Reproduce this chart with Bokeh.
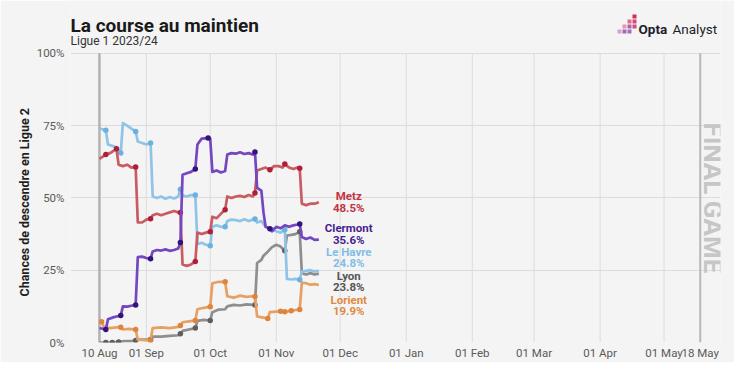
import math
import pandas as pd
from bokeh.plotting import figure
from bokeh.models import Range1d, FixedTicker, Label, Title, ColumnDataSource
from bokeh.core.properties import value
from bokeh.embed import file_html
from bokeh.resources import INLINE

FONT = "Roboto"
BG = "#f4f4f4"

# ---------------- data ----------------
tick_dates = ["2023-08-10", "2023-09-01", "2023-10-01", "2023-11-01", "2023-12-01",
              "2024-01-01", "2024-02-01", "2024-03-01", "2024-04-01", "2024-05-01", "2024-05-18"]
tick_labels = ["10 Aug", "01 Sep", "01 Oct", "01 Nov", "01 Dec",
               "01 Jan", "01 Feb", "01 Mar", "01 Apr", "01 May", "18 May"]
y_ticks = [0, 25, 50, 75, 100]
y_tick_labels = ["0%", "25%", "50%", "75%", "100%"]

season_start = "2023-08-10"
final_game = "2024-05-18"

teams = ["Metz", "Clermont", "Le Havre", "Lyon", "Lorient"]
final_pct = ["48.5%", "35.6%", "24.8%", "23.8%", "19.9%"]

metz_dates = ["08-10", "08-11", "08-13", "08-15", "08-18", "08-19", "08-21", "08-23", "08-25", "08-27", "08-28", "08-30",
              "09-01", "09-03", "09-04", "09-06", "09-08", "09-10", "09-12", "09-14", "09-16", "09-17", "09-18", "09-20",
              "09-22", "09-24", "09-25", "09-27", "09-29",
              "10-01", "10-02", "10-04", "10-06", "10-08", "10-09", "10-11", "10-13", "10-15", "10-17", "10-19", "10-21",
              "10-22", "10-23", "10-25", "10-27", "10-29", "10-31",
              "11-02", "11-04", "11-05", "11-07", "11-09", "11-11", "11-12", "11-13", "11-15", "11-17", "11-19", "11-21"]
metz_vals = [63.5, 64, 65, 65.5, 67, 61.5, 61, 61.5, 60.5, 60.7, 41.5, 41.5,
             42.5, 42.8, 44, 44.5, 44, 44.5, 45, 45.5, 45, 45, 27, 26.5,
             27, 28, 38, 37.5, 38,
             38.3, 43.5, 43, 44.5, 45.9, 50.5, 50, 50.5, 50.7, 50.3, 51, 50.5,
             51.7, 59.5, 60, 60.5, 59.7, 61,
             61, 60.5, 61.7, 60.5, 60, 60.5, 60.3, 48, 47.5, 48, 48, 48.5]
metz_match_dates = ["08-13", "08-18", "08-27", "09-03", "09-17", "09-24", "10-01", "10-08", "10-22", "10-29", "11-05", "11-12"]
metz_match_vals = [65, 67, 60.7, 42.8, 45, 28, 38.3, 45.9, 51.7, 59.7, 61.7, 60.3]

clermont_dates = ["08-10", "08-13", "08-14", "08-16", "08-18", "08-20", "08-21", "08-23", "08-25", "08-27", "08-28", "08-30",
                  "09-01", "09-03", "09-04", "09-06", "09-08", "09-10", "09-12", "09-14", "09-16", "09-17", "09-18", "09-20",
                  "09-22", "09-24", "09-25", "09-27", "09-30",
                  "10-01", "10-02", "10-04", "10-06", "10-08", "10-09", "10-11", "10-13", "10-15", "10-17", "10-19", "10-21",
                  "10-22", "10-23", "10-25", "10-26", "10-27", "10-29", "10-30",
                  "11-01", "11-03", "11-05", "11-07", "11-09", "11-11", "11-12", "11-13", "11-15", "11-17", "11-19", "11-21"]
clermont_vals = [5, 4.5, 8, 8.6, 9, 9.3, 12.5, 12.4, 12.7, 13, 29.5, 29.7,
                 29.2, 29, 31.5, 32, 31.8, 32.2, 31.7, 32, 32.5, 34.6, 58, 58.5,
                 59, 60, 68.5, 70.5, 70.7,
                 70.5, 59, 59.5, 58.8, 59.3, 65, 65.5, 65.3, 65.8, 65.2, 65.5, 65,
                 65.9, 53.5, 52.5, 45, 40, 39.3, 38.5,
                 40, 39.5, 40.5, 40, 40.5, 40.8, 41, 36.5, 35.8, 36.3, 35.5, 35.6]
clermont_match_dates = ["08-13", "08-20", "08-27", "09-03", "09-17", "09-24", "09-30", "10-22", "10-29", "11-12"]
clermont_match_vals = [4.5, 9.3, 13, 29, 34.6, 60, 70.7, 65.9, 39.3, 41]

havre_dates = ["08-10", "08-13", "08-14", "08-16", "08-18", "08-20", "08-21", "08-23", "08-25", "08-27", "08-28", "08-30",
               "09-01", "09-03", "09-04", "09-06", "09-08", "09-10", "09-12", "09-14", "09-16", "09-17", "09-18", "09-20",
               "09-22", "09-24", "09-25", "09-27", "09-29",
               "10-01", "10-02", "10-04", "10-06", "10-08", "10-09", "10-11", "10-13", "10-15", "10-17", "10-19", "10-21",
               "10-22", "10-23", "10-25", "10-27", "10-30",
               "11-01", "11-03", "11-05", "11-06", "11-08", "11-10", "11-12", "11-13", "11-15", "11-17", "11-19", "11-21"]
havre_vals = [74, 73.4, 68.5, 68, 67.5, 65.5, 75.9, 75, 74, 73, 69.5, 69,
              68.5, 69, 50.5, 50, 50.5, 49.7, 50.3, 49.8, 50.5, 53, 50.8, 50.5,
              51, 51, 34, 34.5, 33.8,
              33.5, 40, 40.5, 40, 40, 42, 42.5, 42.3, 42, 42.6, 42, 42.5,
              42.7, 41.5, 42, 40, 39,
              38.5, 38, 39, 22, 21.8, 22, 21.7, 24.5, 24.8, 25, 24.6, 24.8]
havre_match_dates = ["08-13", "08-20", "08-27", "09-03", "09-17", "09-24", "10-01", "10-08", "10-22", "10-30", "11-05", "11-12"]
havre_match_vals = [73.4, 65.5, 73, 69, 53, 51, 33.5, 40, 42.7, 39, 39, 21.7]

lyon_dates = ["08-10", "08-13", "08-16", "08-19", "08-22", "08-25", "08-27", "08-28",
              "09-01", "09-03", "09-04", "09-08", "09-12", "09-16", "09-17", "09-18", "09-21", "09-23", "09-24", "09-25", "09-28",
              "10-01", "10-02", "10-05", "10-08", "10-09", "10-12", "10-15", "10-18", "10-21", "10-22", "10-23", "10-25",
              "10-26", "10-28", "10-30",
              "11-01", "11-03", "11-05", "11-06", "11-08", "11-10", "11-12", "11-13", "11-15", "11-17", "11-19", "11-21"]
lyon_vals = [0, 0, 0, 0.2, 0.5, 0.5, 0.7, 1,
             1, 1, 2, 2, 2.3, 2.5, 3, 4, 4.5, 4.8, 5, 7.5, 7.8,
             7.6, 10.5, 11.4, 11.5, 12.5, 13, 12.8, 13.2, 13, 13, 27.5, 28.6,
             30, 31.4, 33,
             33.8, 33.2, 31.7, 37, 37.2, 37.5, 38.3, 24, 23.5, 24, 23.5, 23.8]
lyon_match_dates = ["08-13", "08-16", "08-19", "08-27", "09-03", "09-17", "09-24", "10-01", "10-22", "11-05", "11-12"]
lyon_match_vals = [0, 0, 0.2, 0.7, 1, 3, 5, 7.6, 13, 31.7, 38.3]

lorient_dates = ["08-10", "08-11", "08-12", "08-15", "08-18", "08-20", "08-21", "08-24", "08-27", "08-28", "08-31",
                 "09-03", "09-04", "09-08", "09-12", "09-16", "09-17", "09-18", "09-21", "09-24", "09-25", "09-28",
                 "10-01", "10-02", "10-05", "10-08", "10-09", "10-12", "10-15", "10-18", "10-21", "10-22", "10-23",
                 "10-26", "10-28", "10-29",
                 "11-01", "11-03", "11-05", "11-08", "11-12", "11-13", "11-15", "11-17", "11-19", "11-21"]
lorient_vals = [7.2, 7.2, 5.5, 5, 5.2, 5.3, 4.5, 4.7, 4.5, 1, 0.8,
                0.7, 5, 5.2, 5, 5.4, 5.9, 7, 7.3, 7.6, 11.5, 12,
                12.4, 20.5, 21, 21, 16, 15.5, 16.2, 15.8, 16, 15.9, 9,
                8.6, 8.3, 10.5,
                10.7, 10.8, 10.6, 11, 11.4, 20.7, 20.5, 20, 20.2, 19.9]
lorient_match_dates = ["08-11", "08-20", "08-27", "09-03", "09-17", "09-24", "10-01", "10-08", "10-22", "10-28",
                       "11-03", "11-05", "11-08", "11-12"]
lorient_match_vals = [7.2, 5.3, 4.5, 0.7, 5.9, 7.6, 12.4, 21, 15.9, 8.3, 10.8, 10.6, 11, 11.4]

# ---------------- styles ----------------
line_colors = {"Metz": "#c95c62", "Clermont": "#7446c0", "Le Havre": "#8fc4e6", "Lyon": "#8e8e8e", "Lorient": "#e6a064"}
dot_colors = {"Metz": "#b01f3a", "Clermont": "#33127a", "Le Havre": "#6bb2df", "Lyon": "#5e5e5e", "Lorient": "#dd853c"}
label_colors = {"Metz": "#c23344", "Clermont": "#4a1d92", "Le Havre": "#82bde4", "Lyon": "#555555", "Lorient": "#e08a3e"}
label_name_y = {"Metz": 50.7, "Clermont": 39.7, "Le Havre": 31.4, "Lyon": 23.1, "Lorient": 14.8}
label_pct_y = {"Metz": 46.6, "Clermont": 35.6, "Le Havre": 27.6, "Lyon": 19.3, "Lorient": 11.0}
label_x_date = "2023-12-05"


def ms(s):
    return int(pd.Timestamp(s).value // 10**6)


def season(md_list):
    return [pd.Timestamp("2023-" + md) for md in md_list]


series = {
    "Metz": (metz_dates, metz_vals, metz_match_dates, metz_match_vals),
    "Clermont": (clermont_dates, clermont_vals, clermont_match_dates, clermont_match_vals),
    "Le Havre": (havre_dates, havre_vals, havre_match_dates, havre_match_vals),
    "Lyon": (lyon_dates, lyon_vals, lyon_match_dates, lyon_match_vals),
    "Lorient": (lorient_dates, lorient_vals, lorient_match_dates, lorient_match_vals),
}

# ---------------- geometry (canvas pixels) ----------------
W, H = 734, 362
FL, FR, FB = 70, 720, 343       # frame left / right / bottom; frame top is the canvas top
TOP100 = 53                     # canvas y of the 100% line
X0, X1 = ms("2023-07-27 10:00"), ms("2024-05-27 12:00")
YMAX = 100.0 * FB / (FB - TOP100)


def cx(px):   # canvas x pixel -> data x (header decorations)
    return X0 + (px - FL) / (FR - FL) * (X1 - X0)


def cy(py):   # canvas y pixel -> data y
    return (FB - py) / (FB - TOP100) * 100.0


p = figure(width=W, height=H, x_axis_type="datetime",
           x_range=Range1d(X0, X1), y_range=Range1d(0, YMAX),
           output_backend="svg", toolbar_location=None,
           min_border_left=FL, min_border_right=W - FR, min_border_top=0, min_border_bottom=H - FB)
p.title.visible = False
p.background_fill_color = BG
p.border_fill_color = BG
p.outline_line_color = None

p.xaxis.ticker = FixedTicker(ticks=[ms(d) for d in tick_dates])
p.xaxis.major_label_overrides = {ms(d): lab for d, lab in zip(tick_dates, tick_labels)}
p.yaxis.ticker = FixedTicker(ticks=y_ticks)
p.yaxis.major_label_overrides = {t: lab for t, lab in zip(y_ticks, y_tick_labels)}
for ax in (p.xaxis, p.yaxis):
    ax.axis_line_color = None
    ax.major_tick_line_color = None
    ax.minor_tick_line_color = None
    ax.major_tick_out = 0
    ax.major_tick_in = 0
    ax.minor_tick_out = 0
    ax.minor_tick_in = 0
    ax.major_label_text_font = FONT
    ax.major_label_text_font_size = "11.5px"
    ax.major_label_text_color = "#5a5a5a"
p.xaxis.major_label_standoff = 3
p.yaxis.major_label_standoff = 6

# y-axis title, aligned on the 0-100 band rather than the whole frame
p.add_layout(Title(text="Chances de descendre en Ligue 2", align="left", offset=46, standoff=3,
                   text_font=FONT, text_font_style="bold", text_font_size="12.5px",
                   text_color="#1e1e1e"), "left")

p.xgrid.visible = False
p.ygrid.grid_line_color = "#dcdcdc"

# vertical grid lines, only over the 0-100 band
grid_x = [pd.Timestamp(d) for d in tick_dates]
p.segment(x0=grid_x, y0=[0] * len(grid_x), x1=grid_x, y1=[100] * len(grid_x),
          line_color="#dcdcdc", line_width=1)
# season start and final game lines
p.segment(x0=[pd.Timestamp(season_start)], y0=[0], x1=[pd.Timestamp(season_start)], y1=[100],
          line_color="#b2b2b2", line_width=2.5)
p.segment(x0=[pd.Timestamp(final_game)], y0=[0], x1=[pd.Timestamp(final_game)], y1=[100],
          line_color="#b8b8b8", line_width=2)
p.add_layout(Label(x=ms("2024-05-24"), y=50, text="FINAL GAME", angle=-math.pi / 2,
                   text_align="center", text_baseline="middle", text_font=FONT,
                   text_font_style="bold", text_font_size="26px", text_color="#c6c6c6"))

for team in ["Lyon", "Lorient", "Le Havre", "Metz", "Clermont"]:
    d, v, md, mv = series[team]
    src = ColumnDataSource(dict(x=season(d), y=v))
    p.line("x", "y", source=src, line_width=2.7, line_color=line_colors[team], line_join="round")
    msrc = ColumnDataSource(dict(x=season(md), y=mv))
    p.scatter("x", "y", source=msrc, size=5.5, fill_color=dot_colors[team], line_color=None)

for team, pct in zip(teams, final_pct):
    for txt, yy in ((team, label_name_y[team]), (pct, label_pct_y[team])):
        p.add_layout(Label(x=ms(label_x_date), y=yy, text=txt, text_align="center", text_baseline="middle",
                           text_font=FONT, text_font_style="bold", text_font_size="11.5px",
                           text_color=label_colors[team]))

# header inside the (extended) frame: title, subtitle, logo
p.text(x=[cx(70)], y=[cy(25)], text=["La course au maintien"], text_font=value(FONT),
       text_font_style="bold", text_font_size="19px", text_color="#1a1a1a", text_baseline="alphabetic")
p.text(x=[cx(70)], y=[cy(41)], text=["Ligue 1 2023/24"], text_font=value(FONT),
       text_font_size="12px", text_color="#333333", text_baseline="alphabetic")
p.text(x=[cx(638)], y=[cy(29)], text=["Opta"], text_font=value(FONT), text_font_style="bold",
       text_font_size="13.5px", text_color="#1d1d2b", text_baseline="alphabetic")
p.text(x=[cx(672)], y=[cy(29)], text=["Analyst"], text_font=value(FONT),
       text_font_size="13.5px", text_color="#1d1d2b", text_baseline="alphabetic")
sq_left = [632, 632, 632, 627, 627, 627, 622, 622, 617]
sq_top = [14, 19, 24, 19, 24, 29, 24, 29, 29]
sq_col = ["#d2304e", "#d84a6c", "#c4508c", "#e06c8c", "#b262a2", "#a070b8", "#e494b4", "#9c6cba", "#d4a4cc"]
p.quad(left=[cx(v) for v in sq_left], right=[cx(v + 4) for v in sq_left],
       top=[cy(v) for v in sq_top], bottom=[cy(v + 4) for v in sq_top],
       fill_color=sq_col, line_color=None)

open("out.html", "w").write(file_html(p, INLINE))
